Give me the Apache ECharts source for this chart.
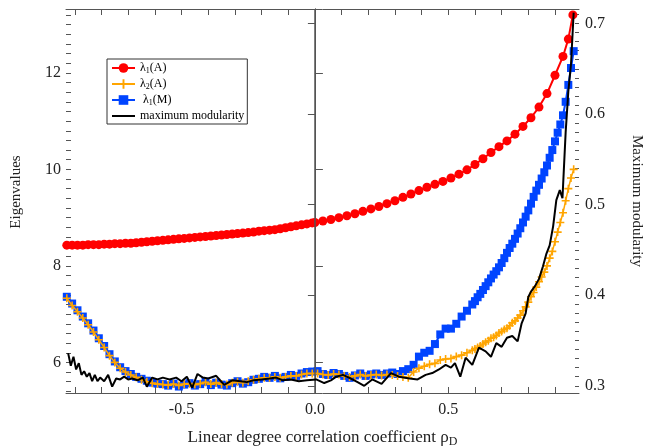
<!DOCTYPE html>
<html>
<head>
<meta charset="utf-8">
<script src="https://cdn.jsdelivr.net/npm/echarts@6/dist/echarts.min.js"></script>
<style>
  html, body { margin: 0; padding: 0; background: #fff; }
  #main { width: 646px; height: 447px; }
</style>
</head>
<body>
<div id="main"></div>
<script>
// axis ranges and ticks
let xMin = -0.933, xMax = 0.99;
let yMinL = 5.366, yMaxL = 13.323;
let yMinR = 0.292, yMaxR = 0.716;
let xTicks = [-0.9, -0.8, -0.7, -0.6, -0.5, -0.4, -0.3, -0.2, -0.1, 0, 0.1, 0.2, 0.3, 0.4, 0.5, 0.6, 0.7, 0.8, 0.9];
let xLabels = [-0.5, 0, 0.5];
let eigLabels = [6, 8, 10, 12];
let modLabels = [0.3, 0.4, 0.5, 0.6, 0.7];
let eigMinor = [];
for (let i = 27; i <= 66; i++) eigMinor.push(+(i * 0.2).toFixed(1));
let modMinor = [];
for (let i = 30; i <= 71; i++) modMinor.push(+(i * 0.01).toFixed(2));

// lambda_1(A)
let rhoRed = [
  -0.93, -0.91, -0.89, -0.87, -0.85, -0.83, -0.81, -0.79, -0.77, -0.75,
  -0.73, -0.71, -0.69, -0.67, -0.65, -0.63, -0.61, -0.59, -0.57, -0.55,
  -0.53, -0.51, -0.49, -0.47, -0.45, -0.43, -0.41, -0.39, -0.37, -0.35,
  -0.33, -0.31, -0.29, -0.27, -0.25, -0.23, -0.21, -0.19, -0.17, -0.15,
  -0.13, -0.11, -0.09, -0.07, -0.05, -0.03, -0.01,
  0.00, 0.03, 0.06, 0.09, 0.12, 0.15, 0.18, 0.21, 0.24, 0.27,
  0.30, 0.33, 0.36, 0.39, 0.42, 0.45, 0.48, 0.51, 0.54, 0.57,
  0.60, 0.63, 0.66, 0.69, 0.72, 0.75, 0.78, 0.81, 0.84, 0.87,
  0.90, 0.93, 0.95, 0.967
];
let lambda1A = [
  8.43, 8.43, 8.43, 8.43, 8.44, 8.44, 8.44, 8.45, 8.45, 8.46,
  8.46, 8.47, 8.47, 8.48, 8.49, 8.50, 8.51, 8.52, 8.53, 8.54,
  8.55, 8.56, 8.57, 8.58, 8.59, 8.60, 8.61, 8.62, 8.63, 8.64,
  8.65, 8.66, 8.67, 8.68, 8.69, 8.70, 8.72, 8.73, 8.74, 8.75,
  8.77, 8.79, 8.81, 8.83, 8.85, 8.87, 8.89,
  8.90, 8.93, 8.96, 9.00, 9.04, 9.08, 9.13, 9.18, 9.23, 9.29,
  9.35, 9.42, 9.49, 9.56, 9.63, 9.69, 9.75, 9.82, 9.90, 9.99,
  10.10, 10.22, 10.35, 10.47, 10.59, 10.73, 10.89, 11.07, 11.29, 11.57,
  11.95, 12.34, 12.70, 13.20
];

// lambda_2(A) and lambda_1(M) share the same rho grid (finer on the steep right part)
let rhoGrid = [
  -0.93, -0.91, -0.89, -0.87, -0.85, -0.83, -0.81, -0.79, -0.77, -0.75,
  -0.73, -0.71, -0.69, -0.67, -0.65, -0.63, -0.61, -0.59, -0.57, -0.55,
  -0.53, -0.51, -0.49, -0.47, -0.45, -0.43, -0.41, -0.39, -0.37, -0.35,
  -0.33, -0.31, -0.29, -0.27, -0.25, -0.23, -0.21, -0.19, -0.17, -0.15,
  -0.13, -0.11, -0.09, -0.07, -0.05, -0.03, -0.01,
  0.01, 0.03, 0.05, 0.07, 0.09, 0.11, 0.13, 0.15, 0.17, 0.19,
  0.21, 0.23, 0.25, 0.27, 0.29, 0.31, 0.33, 0.35, 0.37, 0.39,
  0.41, 0.43, 0.45, 0.47, 0.49, 0.51, 0.53, 0.55, 0.57, 0.59,
  0.60, 0.61, 0.62, 0.63, 0.64, 0.65, 0.66, 0.67, 0.68, 0.69,
  0.70, 0.71, 0.72, 0.73, 0.74, 0.75, 0.76, 0.77, 0.78, 0.79,
  0.80, 0.81, 0.82, 0.83, 0.84, 0.85, 0.86, 0.87, 0.88, 0.89,
  0.90, 0.91, 0.92, 0.93, 0.94, 0.95, 0.96, 0.97
];
let lambda1M = [
  7.36, 7.22, 7.08, 6.95, 6.81, 6.66, 6.50, 6.34, 6.17, 6.02,
  5.90, 5.82, 5.76, 5.70, 5.66, 5.62, 5.58, 5.56, 5.55, 5.52,
  5.56, 5.50, 5.54, 5.57, 5.52, 5.55, 5.60, 5.53, 5.58, 5.54,
  5.52, 5.57, 5.61, 5.56, 5.59, 5.64, 5.66, 5.70, 5.68, 5.72,
  5.67, 5.70, 5.74, 5.72, 5.77, 5.80, 5.81,
  5.82, 5.76, 5.74, 5.78, 5.76, 5.72, 5.68, 5.73, 5.77, 5.72,
  5.75, 5.77, 5.74, 5.77, 5.79, 5.76, 5.82, 5.86, 5.95, 6.12,
  6.20, 6.24, 6.38, 6.58, 6.70, 6.70, 6.80, 6.95, 7.07, 7.20,
  7.27, 7.35, 7.42, 7.50, 7.58, 7.66, 7.74, 7.82, 7.89, 7.97,
  8.06, 8.16, 8.27, 8.37, 8.46, 8.56, 8.67, 8.78, 8.90, 9.02,
  9.15, 9.29, 9.43, 9.56, 9.68, 9.81, 9.94, 10.08, 10.24, 10.40,
  10.58, 10.76, 10.93, 11.12, 11.40, 11.75, 12.10, 12.45
];
let lambda2A = [
  7.33, 7.18, 7.05, 6.92, 6.78, 6.63, 6.47, 6.31, 6.14, 6.00,
  5.88, 5.80, 5.74, 5.69, 5.64, 5.60, 5.57, 5.55, 5.54, 5.53,
  5.55, 5.52, 5.55, 5.56, 5.54, 5.56, 5.59, 5.55, 5.58, 5.55,
  5.54, 5.58, 5.60, 5.58, 5.61, 5.64, 5.66, 5.68, 5.68, 5.70,
  5.68, 5.70, 5.72, 5.72, 5.75, 5.77, 5.77,
  5.77, 5.75, 5.74, 5.76, 5.75, 5.72, 5.70, 5.72, 5.75, 5.72,
  5.74, 5.75, 5.73, 5.75, 5.74, 5.72, 5.70, 5.68, 5.80, 5.88,
  5.92, 5.96, 5.98, 6.05, 6.07, 6.08, 6.12, 6.15, 6.20, 6.25,
  6.28, 6.31, 6.34, 6.38, 6.42, 6.45, 6.50, 6.52, 6.56, 6.61,
  6.64, 6.68, 6.71, 6.76, 6.82, 6.86, 6.92, 6.98, 7.07, 7.15,
  7.25, 7.36, 7.45, 7.56, 7.67, 7.77, 7.87, 8.00, 8.16, 8.30,
  8.50, 8.70, 8.90, 9.10, 9.35, 9.60, 9.82, 10.00
];

// maximum modularity (right axis)
let rhoMod = [
  -0.925, -0.915, -0.905, -0.895, -0.885, -0.875, -0.865, -0.855, -0.845, -0.835,
  -0.825, -0.815, -0.805, -0.79, -0.775, -0.76, -0.745, -0.73, -0.715, -0.70,
  -0.685, -0.665, -0.645, -0.63, -0.61, -0.59, -0.57, -0.545, -0.52, -0.50,
  -0.48, -0.46, -0.44, -0.42, -0.40, -0.37, -0.34, -0.31, -0.28, -0.255,
  -0.23, -0.20, -0.17, -0.145, -0.12, -0.09, -0.06, -0.03, 0.005, 0.035,
  0.06, 0.08, 0.105, 0.135, 0.16, 0.185, 0.215, 0.25, 0.285, 0.315,
  0.355, 0.385, 0.415, 0.44, 0.465, 0.49, 0.51, 0.525, 0.545, 0.565,
  0.59, 0.615, 0.64, 0.66, 0.68, 0.70, 0.72, 0.74, 0.76, 0.775,
  0.79, 0.80, 0.81, 0.825, 0.84, 0.855, 0.868, 0.88, 0.893, 0.905,
  0.918, 0.928, 0.94, 0.95, 0.96, 0.97
];
let maxModularity = [
  0.336, 0.322, 0.332, 0.318, 0.325, 0.312, 0.316, 0.310, 0.314, 0.305,
  0.312, 0.305, 0.309, 0.305, 0.312, 0.299, 0.308, 0.307, 0.310, 0.307,
  0.308, 0.306, 0.309, 0.299, 0.309, 0.307, 0.309, 0.307, 0.309, 0.305,
  0.310, 0.298, 0.313, 0.309, 0.308, 0.311, 0.301, 0.306, 0.305, 0.304,
  0.306, 0.307, 0.308, 0.309, 0.306, 0.307, 0.305, 0.306, 0.307, 0.303,
  0.306, 0.310, 0.312, 0.308, 0.304, 0.300, 0.307, 0.302, 0.314, 0.310,
  0.308, 0.307, 0.312, 0.314, 0.318, 0.323, 0.320, 0.325, 0.310, 0.331,
  0.323, 0.342, 0.338, 0.332, 0.347, 0.343, 0.353, 0.355, 0.349, 0.369,
  0.380, 0.398, 0.404, 0.410, 0.418, 0.432, 0.446, 0.455, 0.476, 0.505,
  0.516, 0.507, 0.580, 0.625, 0.655, 0.712
];

function pairs(xs, ys) {
  return xs.map((x, i) => [x, ys[i]]);
}

let font = 'Liberation Serif';
let axisColor = '#555';
let plusPath = 'path://M4,0H6V4H10V6H6V10H4V6H0V4H4Z';

let legendNames = {
  'λ1(A)': '{n|λ}{s|1}{n|(A)}',
  'λ2(A)': '{n|λ}{s|2}{n|(A)}',
  'λ1(M)': '{n| λ}{s|1}{n|(M)}',
  'maximum modularity': '{n|maximum modularity}'
};

let myChart = echarts.init(document.getElementById('main'));

let option = {
  animation: false,
  backgroundColor: '#fff',
  grid: { left: 66, right: 67, top: 9, bottom: 54, outerBoundsMode: 'none' },
  legend: {
    orient: 'vertical',
    left: 107,
    top: 59,
    padding: [3, 3, 2, 4],
    itemWidth: 23,
    itemHeight: 12,
    itemGap: 3,
    borderColor: '#333',
    borderWidth: 1,
    data: ['λ1(A)', 'λ2(A)', 'λ1(M)', { name: 'maximum modularity', itemStyle: { opacity: 0 } }],
    formatter: function (name) { return legendNames[name]; },
    textStyle: {
      fontFamily: font, fontSize: 12, color: '#000',
      rich: {
        n: { fontFamily: font, fontSize: 12, color: '#000' },
        s: { fontFamily: font, fontSize: 8, color: '#000', padding: [6, 0, 0, 0] }
      }
    }
  },
  xAxis: [
    {
      type: 'value', min: xMin, max: xMax, position: 'bottom',
      axisLine: { lineStyle: { color: axisColor, width: 1 } },
      axisTick: { inside: true, length: 6, customValues: xTicks, lineStyle: { color: axisColor } },
      axisLabel: {
        customValues: xLabels, margin: 9,
        formatter: function (v) { return v.toFixed(1); },
        fontFamily: font, fontSize: 16, color: '#222'
      },
      splitLine: { show: false },
      name: '{a|Linear degree correlation coefficient ρ}{b|D}',
      nameLocation: 'middle', nameGap: 34,
      nameTextStyle: {
        rich: {
          a: { fontFamily: font, fontSize: 17, color: '#222' },
          b: { fontFamily: font, fontSize: 12, color: '#222', padding: [9, 0, 0, 0] }
        }
      }
    },
    {
      type: 'value', min: xMin, max: xMax, position: 'top',
      axisLine: { lineStyle: { color: axisColor, width: 1 } },
      axisTick: { inside: true, length: 6, customValues: xTicks, lineStyle: { color: axisColor } },
      axisLabel: { show: false },
      splitLine: { show: false }
    }
  ],
  yAxis: [
    {
      type: 'value', min: yMinL, max: yMaxL, position: 'left',
      axisLine: { show: true, lineStyle: { color: axisColor, width: 1 } },
      axisTick: { inside: true, length: 8, customValues: eigLabels, lineStyle: { color: axisColor } },
      axisLabel: { customValues: eigLabels, margin: 5, fontFamily: font, fontSize: 16, color: '#222' },
      splitLine: { show: false },
      name: 'Eigenvalues', nameLocation: 'middle', nameGap: 42,
      nameTextStyle: { fontFamily: font, fontSize: 15, color: '#222', padding: [0, 0, 0, 18] }
    },
    {
      type: 'value', min: yMinR, max: yMaxR, position: 'right',
      axisLine: { show: true, lineStyle: { color: axisColor, width: 1 } },
      axisTick: { inside: true, length: 7, customValues: modLabels, lineStyle: { color: axisColor } },
      axisLabel: {
        customValues: modLabels, margin: 6,
        formatter: function (v) { return v.toFixed(1); },
        fontFamily: font, fontSize: 16, color: '#222'
      },
      splitLine: { show: false },
      name: 'Maximum modularity', nameLocation: 'middle', nameGap: 50, nameRotate: -90,
      nameTextStyle: { fontFamily: font, fontSize: 15, color: '#222' }
    },
    {
      type: 'value', min: yMinL, max: yMaxL, position: 'left',
      axisLine: { show: false },
      axisTick: { inside: true, length: 5, customValues: eigMinor, lineStyle: { color: axisColor } },
      axisLabel: { show: false },
      splitLine: { show: false }
    },
    {
      type: 'value', min: yMinR, max: yMaxR, position: 'right',
      axisLine: { show: false },
      axisTick: { inside: true, length: 4, customValues: modMinor, lineStyle: { color: axisColor } },
      axisLabel: { show: false },
      splitLine: { show: false }
    }
  ],
  series: [
    {
      name: 'λ1(A)', type: 'line', xAxisIndex: 0, yAxisIndex: 0,
      data: pairs(rhoRed, lambda1A),
      symbol: 'circle', symbolSize: 9,
      lineStyle: { color: '#ff0000', width: 2 },
      itemStyle: { color: '#ff0000' },
      markLine: {
        silent: true, symbol: 'none', label: { show: false },
        lineStyle: { color: '#555', width: 1.5, type: 'solid' },
        data: [{ xAxis: 0 }]
      },
      z: 2
    },
    {
      name: 'λ1(M)', type: 'line', xAxisIndex: 0, yAxisIndex: 0,
      data: pairs(rhoGrid, lambda1M),
      symbol: 'rect', symbolSize: 8,
      lineStyle: { color: '#0044ff', width: 2 },
      itemStyle: { color: '#0044ff' },
      z: 3
    },
    {
      name: 'λ2(A)', type: 'line', xAxisIndex: 0, yAxisIndex: 0,
      data: pairs(rhoGrid, lambda2A),
      symbol: plusPath, symbolSize: 8,
      lineStyle: { color: '#ffa500', width: 1.5 },
      itemStyle: { color: '#ffa500' },
      z: 4
    },
    {
      name: 'maximum modularity', type: 'line', xAxisIndex: 0, yAxisIndex: 1,
      data: pairs(rhoMod, maxModularity),
      symbol: 'none',
      lineStyle: { color: '#000', width: 2 },
      itemStyle: { color: '#000' },
      z: 5
    }
  ]
};
myChart.setOption(option);
</script>
</body>
</html>
